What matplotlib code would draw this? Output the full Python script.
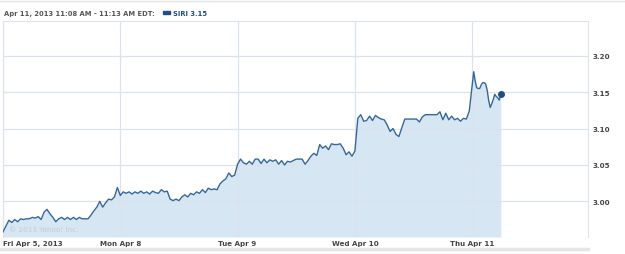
import numpy as np
import matplotlib
matplotlib.use("Agg")
import matplotlib.pyplot as plt

# SIRI intraday prices, 5 sessions (10-minute samples), Thu partial (5-minute samples)
fri = [2.958, 2.966, 2.974, 2.971, 2.975, 2.972, 2.976, 2.975, 2.976, 2.976,
       2.978, 2.977, 2.979, 2.975, 2.985, 2.989, 2.983, 2.978, 2.972, 2.976,
       2.978, 2.975, 2.978, 2.975, 2.978, 2.975, 2.978, 2.976, 2.976, 2.976,
       2.981, 2.987, 2.992, 3.000, 2.992, 2.998, 3.003, 3.002, 3.006, 3.019]
mon = [3.008, 3.013, 3.011, 3.013, 3.010, 3.013, 3.011, 3.014, 3.011, 3.013,
       3.010, 3.014, 3.012, 3.011, 3.016, 3.013, 3.014, 3.003, 3.001, 3.003,
       3.001, 3.006, 3.009, 3.006, 3.011, 3.009, 3.013, 3.011, 3.016, 3.012,
       3.018, 3.016, 3.017, 3.016, 3.024, 3.028, 3.031, 3.039, 3.034, 3.036]
tue = [3.051, 3.058, 3.053, 3.051, 3.055, 3.051, 3.058, 3.058, 3.052, 3.058,
       3.053, 3.057, 3.055, 3.057, 3.051, 3.056, 3.050, 3.055, 3.054, 3.056,
       3.058, 3.058, 3.058, 3.051, 3.056, 3.062, 3.066, 3.063, 3.078, 3.073,
       3.076, 3.071, 3.079, 3.078, 3.078, 3.079, 3.073, 3.064, 3.068, 3.062]
wed = [3.069, 3.114, 3.119, 3.110, 3.111, 3.117, 3.111, 3.118, 3.115, 3.113,
       3.112, 3.105, 3.096, 3.100, 3.092, 3.089, 3.101, 3.113, 3.113, 3.113,
       3.113, 3.113, 3.109, 3.116, 3.119, 3.119, 3.119, 3.119, 3.119, 3.123,
       3.112, 3.121, 3.112, 3.117, 3.112, 3.114, 3.110, 3.114, 3.113, 3.124]
thu = [3.160, 3.178, 3.165, 3.156, 3.155, 3.155, 3.160, 3.163, 3.163, 3.161,
       3.152, 3.138, 3.129, 3.134, 3.140, 3.147, 3.144, 3.142, 3.139, 3.148]

day_labels = ["Fri Apr 5, 2013", "Mon Apr 8", "Tue Apr 9", "Wed Apr 10", "Thu Apr 11"]
y_ticks = [3.00, 3.05, 3.10, 3.15, 3.20]
header = "Apr 11, 2013 11:08 AM - 11:13 AM EDT:"
legend_label = "SIRI 3.15"

SESSION = 390  # minutes per trading day
x_parts = []
y_parts = []
for d, vals in enumerate([fri, mon, tue, wed]):
    x_parts.append(d * SESSION + np.arange(len(vals)) * SESSION / len(vals))
    y_parts.append(vals)
x_parts.append(4 * SESSION + np.arange(len(thu)) * 5)
y_parts.append(thu)
x = np.concatenate(x_parts)
y = np.concatenate(y_parts)

line_c = "#35679b"
fill_c = "#d6e6f2"
grid_c = "#dbe4ec"
text_c = "#555555"

fig = plt.figure(figsize=(6.25, 2.55), dpi=100)
ax = fig.add_axes([3 / 625, 1 - 238 / 255, 585 / 625, 216 / 255])

ymin = 2.951
ax.fill_between(x, y, ymin, color=fill_c, lw=0, zorder=1)
ax.plot(x, y, color=line_c, lw=1.0, zorder=3)
ax.plot(x[-1], y[-1], "o", color="#1f4f85", ms=4, zorder=4)

ax.set_xlim(0, 1945)
ax.set_ylim(ymin, 3.2477)

ax.set_yticks(y_ticks)
ax.set_yticklabels(["%.2f" % v for v in y_ticks])
ax.yaxis.tick_right()
ax.set_xticks([d * SESSION for d in range(5)])
ax.set_xticklabels(day_labels)
ax.tick_params(length=0, labelsize=5.1, labelcolor="#444444")
for lab in ax.get_xticklabels() + ax.get_yticklabels():
    lab.set_fontweight("bold")
ax.get_xticklabels()[0].set_horizontalalignment("left")
ax.tick_params(axis="y", pad=3)
ax.tick_params(axis="x", pad=2.5)

ax.grid(True, color=grid_c, lw=0.9, zorder=2)
ax.set_axisbelow(False)
for s in ax.spines.values():
    s.set_color("#dde3e8")
    s.set_linewidth(0.8)
ax.spines["bottom"].set_visible(False)

ax.text(0.01, 0.03, "© 2013 Yahoo! Inc.", transform=ax.transAxes,
        fontsize=5.2, color="#c3ccd4", zorder=5)

# header line and legend
fig.text(4 / 625, 1 - 14 / 255, header, fontsize=4.9, fontweight="bold",
         color=text_c, va="center")
fig.patches.append(plt.Rectangle((163 / 625, 1 - 15 / 255), 7 / 625, 3 / 255,
                                 transform=fig.transFigure, color="#1f4f85"))
fig.text(173 / 625, 1 - 14 / 255, legend_label, fontsize=4.9, fontweight="bold",
         color="#1f4f85", va="center")
fig.add_artist(plt.Line2D([0, 1], [1 - 2 / 255] * 2, color="#e2e2e2", lw=1))
fig.add_artist(plt.Line2D([0, 588 / 625], [1 - 250 / 255] * 2, color="#e4e4e4", lw=2.5))

fig.savefig("out.png", dpi=100)
